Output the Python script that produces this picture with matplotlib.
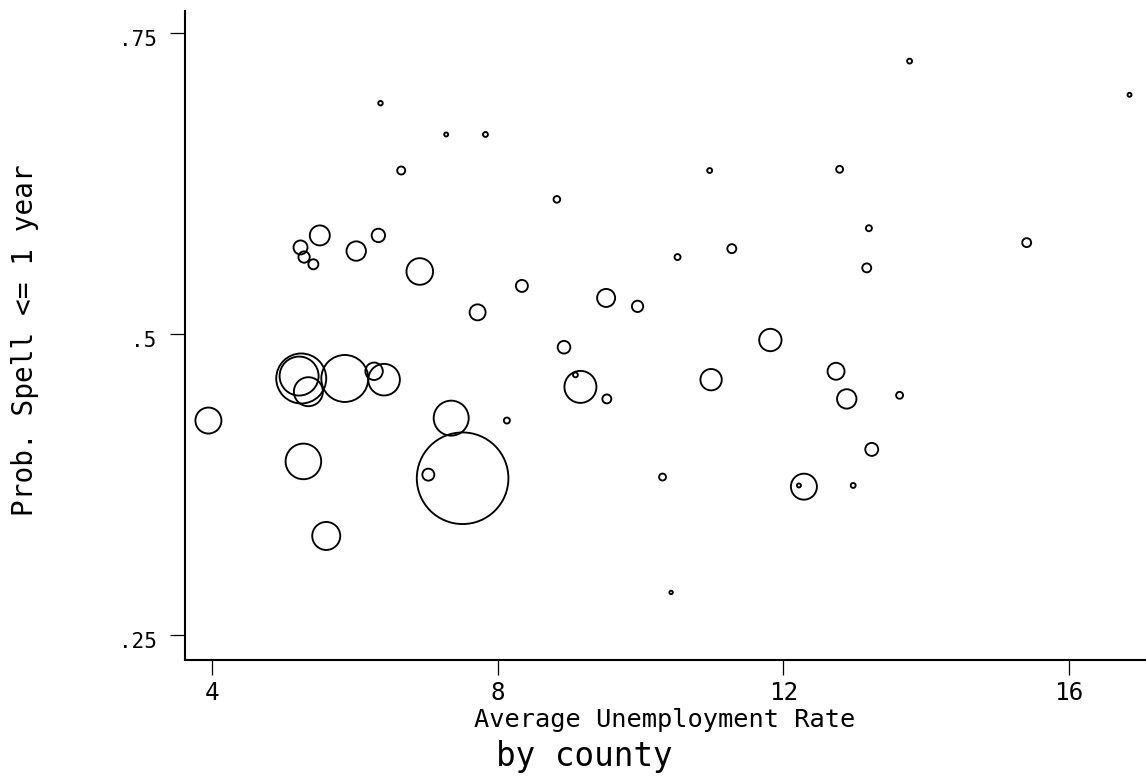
"""Bubble scatter: probability of spell <= 1 year vs average unemployment, by county.

Circle area is proportional to the county weight.
Output: out.png (1146x779).
"""

import matplotlib.pyplot as plt
import matplotlib.transforms as mtransforms

# --- Data ---
unemp_rate = [
    3.95, 5.24, 5.29, 5.42, 5.51, 6.02, 6.33, 6.91, 7.72, 5.25,
    5.22, 5.35, 5.86, 6.27, 6.41, 7.35, 7.51, 7.03, 5.28, 5.60,
    9.52, 9.96, 8.93, 9.16, 9.09, 9.53, 8.13, 10.31, 13.77, 16.85,
    10.97, 12.79, 13.20, 10.52, 11.28, 13.17, 15.41, 11.82, 10.99, 12.74,
    12.89, 13.63, 13.24, 12.29, 12.22, 12.98, 10.43, 6.36, 7.28, 7.83,
    6.65, 8.83, 8.34,
]
prob_spell = [
    0.428, 0.572, 0.564, 0.558, 0.582, 0.569, 0.582, 0.552, 0.518, 0.463,
    0.465, 0.452, 0.463, 0.469, 0.462, 0.430, 0.380, 0.383, 0.394, 0.332,
    0.530, 0.523, 0.489, 0.456, 0.466, 0.446, 0.428, 0.381, 0.727, 0.699,
    0.636, 0.637, 0.588, 0.564, 0.571, 0.555, 0.576, 0.495, 0.462, 0.469,
    0.446, 0.449, 0.404, 0.373, 0.374, 0.374, 0.285, 0.692, 0.666, 0.666,
    0.636, 0.612, 0.540,
]
county_weight = [
    169, 49, 32, 25, 100, 94, 45, 177, 64, 625,
    380, 210, 552, 76, 250, 306, 2098, 36, 317, 196,
    81, 32, 40, 256, 6, 20, 9, 12, 6, 4,
    6, 12, 9, 9, 20, 20, 20, 125, 114, 72,
    94, 12, 42, 169, 4, 6, 3, 5, 4, 6,
    16, 11, 36,
]

x_ticks = [4, 8, 12, 16]
y_ticks = [0.25, 0.5, 0.75]
y_tick_labels = [".25", ".5", ".75"]

FONT = "DejaVu Sans Mono"
W, H = 1146, 779

fig = plt.figure(figsize=(W / 100, H / 100), dpi=100)
ax = fig.add_axes([185 / W, 1 - 660 / H, (W - 185) / W, (660 - 11) / H])

# marker area in pt^2: diameter = 2 * sqrt(weight) px, 1 px = 0.72 pt
sizes = [w * 4 * 0.72 ** 2 for w in county_weight]
ax.scatter(
    unemp_rate,
    prob_spell,
    s=sizes,
    facecolors="none",
    edgecolors="black",
    linewidths=1.35,
    clip_on=False,
)

ax.set_xlim(3.622, 17.081)
ax.set_ylim(0.2288, 0.7687)

for side in ("top", "right"):
    ax.spines[side].set_visible(False)
for side in ("left", "bottom"):
    ax.spines[side].set_linewidth(1.5)

ax.set_xticks(x_ticks)
ax.set_xticklabels([str(t) for t in x_ticks], fontsize=17.5, family=FONT)
ax.set_yticks(y_ticks)
ax.set_yticklabels(y_tick_labels, fontsize=15, family=FONT)
ax.tick_params(axis="x", direction="out", length=10.5, width=0.9, pad=4.5)
ax.tick_params(axis="y", direction="out", length=10.5, width=0.9, pad=10)

# y tick labels sit a little below their ticks in the reference
offset = mtransforms.ScaledTranslation(0, -5 / 100, fig.dpi_scale_trans)
for lbl in ax.get_yticklabels():
    lbl.set_transform(lbl.get_transform() + offset)

# Axis titles
fig.text(
    665 / W, 1 - 726.7 / H, "Average Unemployment Rate",
    ha="center", va="baseline", fontsize=18.3, family=FONT,
)
fig.text(
    25 / W, 1 - 340 / H, "Prob. Spell <= 1 year",
    ha="center", va="center", rotation=90, fontsize=20, family=FONT,
)
fig.text(
    584.5 / W, 1 - 766 / H, "by county",
    ha="center", va="baseline", fontsize=23.5, family=FONT,
)

fig.savefig("out.png", dpi=100, facecolor="white")
plt.close(fig)
